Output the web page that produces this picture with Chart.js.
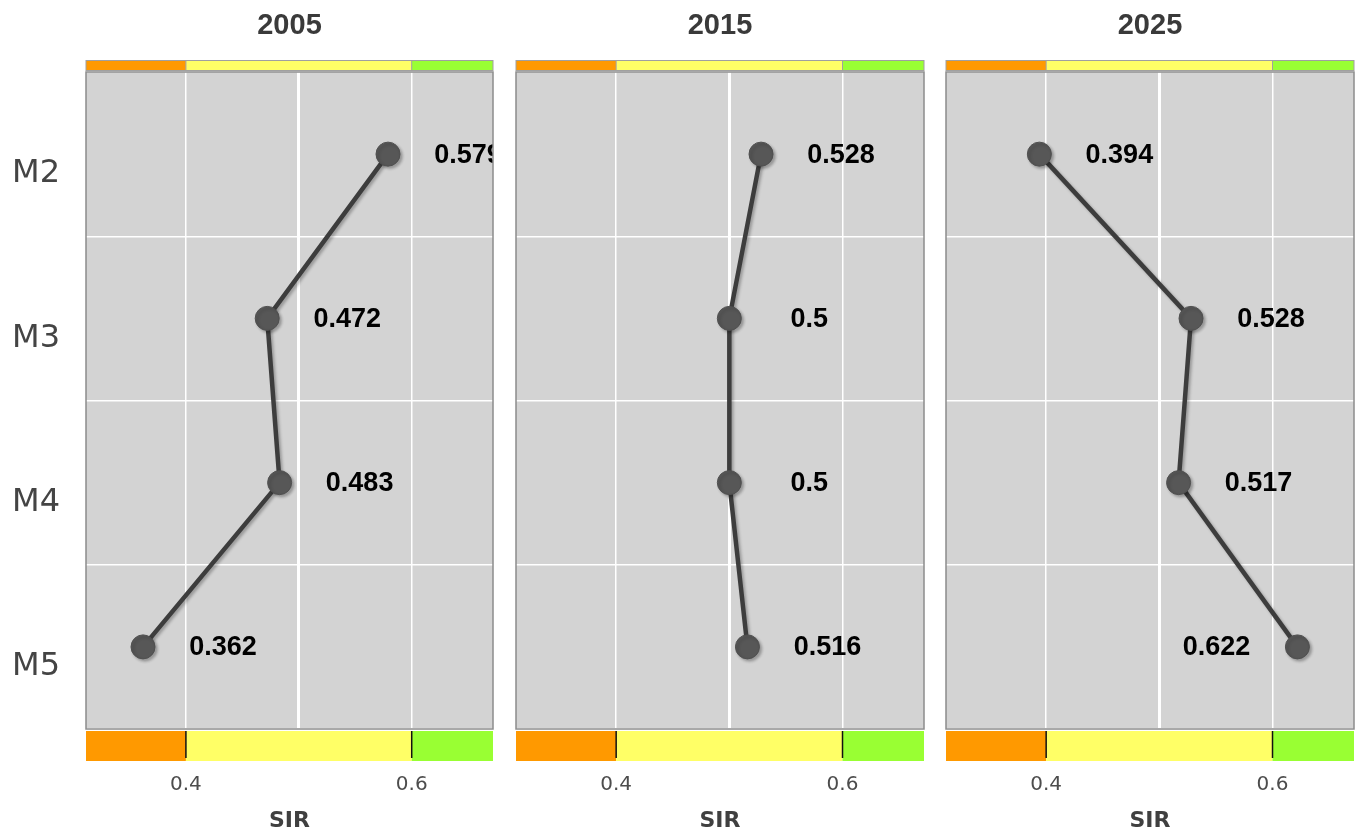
<!DOCTYPE html>
<html>
<head>
<meta charset="utf-8">
<script src="https://cdn.jsdelivr.net/npm/chart.js@4/dist/chart.umd.min.js"></script>
<style>
  body { margin: 0; background: #ffffff; overflow: hidden; }
  #wrap { position: relative; width: 1363px; height: 834px; overflow: hidden; }
  #wrap canvas { position: absolute; top: 0; }
</style>
</head>
<body>
<div id="wrap">
  <canvas id="p2005" width="506" height="834" style="left:0px"></canvas>
  <canvas id="p2015" width="437" height="834" style="left:500px"></canvas>
  <canvas id="p2025" width="437" height="834" style="left:930px"></canvas>
</div>
<script>
// data
const categories = ['M2', 'M3', 'M4', 'M5'];
const years = ['2005', '2015', '2025'];
const sir2005 = [0.579, 0.472, 0.483, 0.362];
const sir2015 = [0.528, 0.5, 0.5, 0.516];
const sir2025 = [0.394, 0.528, 0.517, 0.622];
const xTicks = [0.4, 0.5, 0.6];
const xLabelTicks = [0.4, 0.6];
const bandBreaks = [0.4, 0.6];

const xMin = 0.3115, xMax = 0.672;
const bandColors = ['#FF9900', '#FFFF66', '#99FF33'];

// panel background, colour strips, title and value labels
const panelPlugin = {
    id: 'panelDeco',
    beforeDraw(chart) {
        let ctx = chart.ctx, a = chart.chartArea;
        ctx.save();
        ctx.fillStyle = '#D3D3D3';
        ctx.fillRect(a.left, a.top, a.right - a.left, a.bottom - a.top);
        ctx.restore();
    },
    afterDraw(chart) {
        let ctx = chart.ctx, a = chart.chartArea, xs = chart.scales.x;
        let edges = [a.left, xs.getPixelForValue(bandBreaks[0]), xs.getPixelForValue(bandBreaks[1]), a.right];
        ctx.save();
        // panel border
        ctx.strokeStyle = '#8c8c8c';
        ctx.lineWidth = 1.5;
        ctx.strokeRect(a.left, a.top, a.right - a.left, a.bottom - a.top);
        // top strip
        for (let i = 0; i < 3; i++) {
            ctx.fillStyle = bandColors[i];
            ctx.fillRect(edges[i], a.top - 11, edges[i + 1] - edges[i], 10);
        }
        ctx.strokeStyle = '#a0a0a0';
        ctx.lineWidth = 1;
        ctx.strokeRect(a.left, a.top - 11.5, a.right - a.left, 10);
        ctx.beginPath();
        ctx.moveTo(edges[1], a.top - 11.5); ctx.lineTo(edges[1], a.top - 1.5);
        ctx.moveTo(edges[2], a.top - 11.5); ctx.lineTo(edges[2], a.top - 1.5);
        ctx.stroke();
        // bottom strip
        for (let i = 0; i < 3; i++) {
            ctx.fillStyle = bandColors[i];
            ctx.fillRect(edges[i], a.bottom + 2, edges[i + 1] - edges[i], 30);
        }
        ctx.strokeStyle = '#111';
        ctx.lineWidth = 1.5;
        ctx.beginPath();
        ctx.moveTo(edges[1], a.bottom + 2); ctx.lineTo(edges[1], a.bottom + 29);
        ctx.moveTo(edges[2], a.bottom + 2); ctx.lineTo(edges[2], a.bottom + 29);
        ctx.stroke();
        // facet title
        ctx.fillStyle = '#3a3a3a';
        ctx.font = 'bold 29px "Liberation Sans", Arial, sans-serif';
        ctx.textAlign = 'center';
        ctx.textBaseline = 'middle';
        ctx.fillText(chart.options.plugins.panelDeco.title, (a.left + a.right) / 2, 26);
        ctx.restore();
    },
    beforeDatasetsDraw(chart) {
        let ctx = chart.ctx;
        ctx.save();
        ctx.shadowColor = 'rgba(0,0,0,0.28)';
        ctx.shadowOffsetX = 2;
        ctx.shadowOffsetY = 2;
        ctx.shadowBlur = 3;
    },
    afterDatasetsDraw(chart) {
        let ctx = chart.ctx, a = chart.chartArea;
        ctx.restore();
        let values = chart.data.datasets[0].data;
        let meta = chart.getDatasetMeta(0);
        ctx.save();
        ctx.beginPath();
        ctx.rect(a.left, a.top, a.right - a.left, a.bottom - a.top);
        ctx.clip();
        ctx.fillStyle = '#000';
        ctx.font = 'bold 27px "Liberation Sans", Arial, sans-serif';
        ctx.textAlign = 'center';
        ctx.textBaseline = 'middle';
        meta.data.forEach(function (pt, i) {
            let dx = values[i] > 0.6 ? -81 : 80;
            ctx.fillText(String(values[i]), pt.x + dx, pt.y + 1);
        });
        ctx.restore();
    }
};

function makePanel(id, year, values, showY) {
    new Chart(document.getElementById(id), {
        type: 'line',
        data: {
            labels: categories,
            datasets: [{
                data: values,
                borderColor: '#3d3d3d',
                borderWidth: 4.5,
                pointRadius: 12,
                pointHoverRadius: 12,
                pointBackgroundColor: '#575757',
                pointBorderColor: '#505050',
                pointBorderWidth: 1,
                tension: 0,
                clip: false
            }]
        },
        plugins: [panelPlugin],
        options: {
            responsive: false,
            animation: false,
            indexAxis: 'y',
            layout: { padding: { top: 72, right: 0, bottom: 0, left: 0 } },
            plugins: {
                legend: { display: false },
                tooltip: { enabled: false },
                panelDeco: { title: year }
            },
            scales: {
                x: {
                    type: 'linear',
                    min: xMin,
                    max: xMax,
                    afterBuildTicks: function (scale) {
                        scale.ticks = xTicks.map(v => ({ value: v }));
                    },
                    afterFit: function (scale) {
                        scale.height = 105;
                        scale.paddingLeft = 0;
                        scale.paddingRight = 0;
                    },
                    ticks: {
                        padding: 44,
                        color: '#4d4d4d',
                        font: { family: '"DejaVu Sans", Verdana, sans-serif', size: 20 },
                        callback: function (v) { return xLabelTicks.includes(v) ? String(v) : ''; }
                    },
                    grid: {
                        drawTicks: false,
                        color: '#ffffff',
                        lineWidth: function (c) { return c.tick && c.tick.value === 0.5 ? 3 : 1.5; }
                    },
                    border: { display: false },
                    title: {
                        display: true,
                        text: 'SIR',
                        color: '#404040',
                        font: { family: '"DejaVu Sans", Verdana, sans-serif', size: 22, weight: 'bold' },
                        padding: { top: 2, bottom: 0 }
                    }
                },
                y: {
                    type: 'category',
                    offset: true,
                    afterFit: function (scale) {
                        scale.width = showY ? 86 : 16;
                        scale.paddingTop = 0;
                        scale.paddingBottom = 0;
                    },
                    ticks: {
                        display: showY,
                        padding: 26,
                        labelOffset: 20,
                        color: '#444444',
                        font: { family: '"DejaVu Sans", Verdana, sans-serif', size: 32 }
                    },
                    grid: {
                        offset: true,
                        drawTicks: false,
                        color: '#ffffff',
                        lineWidth: 1.5
                    },
                    border: { display: false }
                }
            }
        }
    });
}

makePanel('p2005', years[0], sir2005, true);
makePanel('p2015', years[1], sir2015, false);
makePanel('p2025', years[2], sir2025, false);
</script>
</body>
</html>
